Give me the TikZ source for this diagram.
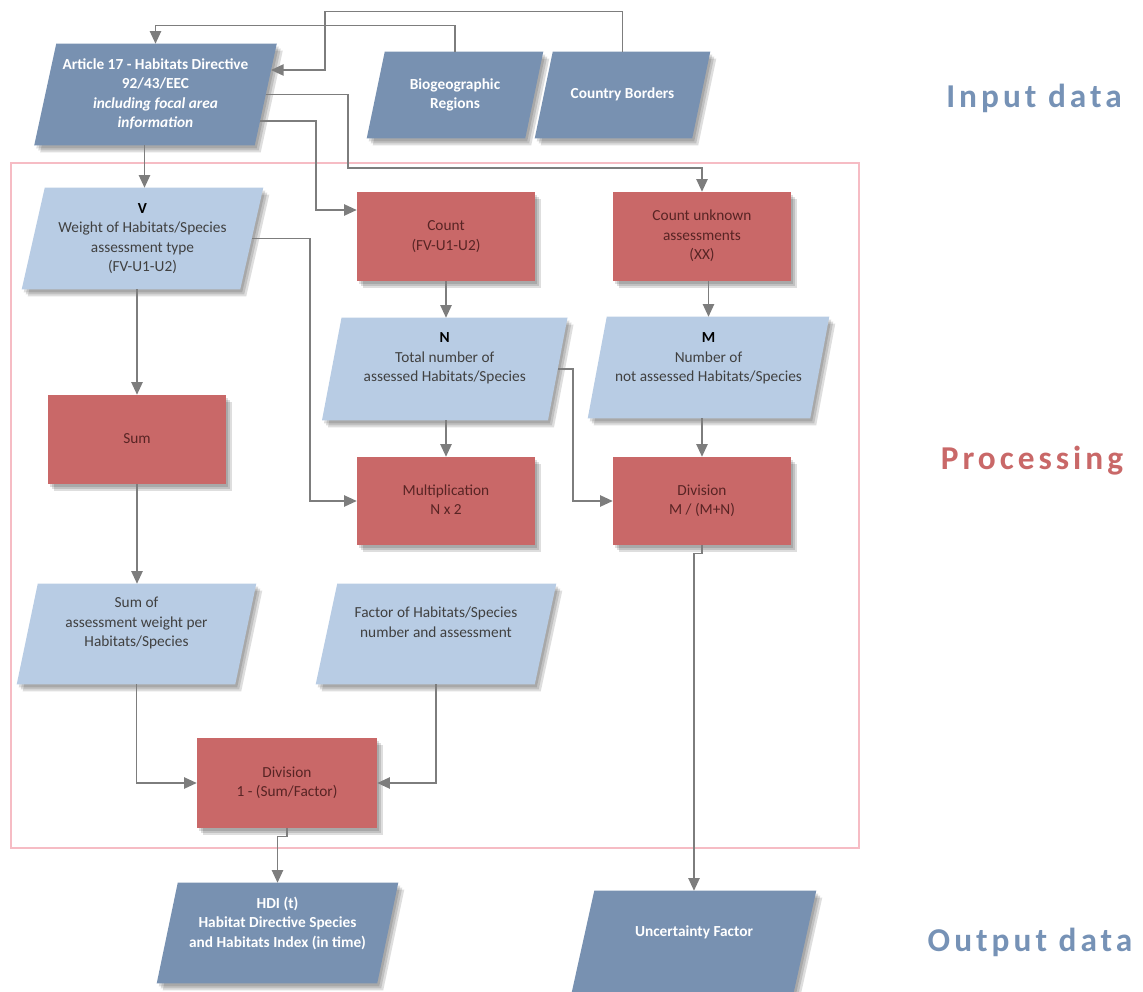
\documentclass[tikz,border=0pt]{standalone}
\usepackage{fontspec}
\setmainfont{Carlito}
\newfontfamily\lblfont[LetterSpace=12]{Carlito}
\usetikzlibrary{arrows.meta}
\definecolor{dkblue}{RGB}{120,145,177}
\definecolor{ltblue}{RGB}{184,204,228}
\definecolor{redbox}{RGB}{201,104,104}
\definecolor{redtxt}{RGB}{88,36,36}
\definecolor{graytxt}{RGB}{64,64,64}
\definecolor{arrc}{RGB}{125,125,125}
\definecolor{framec}{RGB}{246,188,196}
\definecolor{lblblue}{RGB}{118,146,182}
\definecolor{lblred}{RGB}{201,104,104}
\pgfdeclarelayer{background}
\pgfsetlayers{background,main}
\newcommand\tx[2]{\raisebox{#1}[\height][\depth]{\begin{tabular}{@{}c@{}}#2\end{tabular}}}
\newcommand\para[3]{%
 \foreach \d in {2,4,6}{%
  \fill[black,opacity=0.13] ([shift={({#2+\d},{\d+1})}]#1.north west) -- ([shift={({#2+\d},{\d+1})}]#1.north east) -- ([shift={({-#2+\d},{\d+1})}]#1.south east) -- ([shift={({-#2+\d},{\d+1})}]#1.south west) -- cycle;}
 \fill[#3] ([shift={(#2,0)}]#1.north west) -- ([shift={(#2,0)}]#1.north east) -- ([shift={(-#2,0)}]#1.south east) -- ([shift={(-#2,0)}]#1.south west) -- cycle;}
\tikzset{
 base/.style={inner sep=0pt, node font={\fontsize{11.5pt}{14.6pt}\selectfont}},
 dk/.style={base, text=white, node font={\fontsize{11.5pt}{14.6pt}\selectfont\bfseries}},
 lt/.style={base, text=graytxt},
 rd/.style={base, text=redtxt, minimum width=133.5pt, minimum height=66.75pt},
 arr/.style={draw=arrc, line width=1.1pt, -{Triangle[length=9.5pt,width=8.5pt]}},
 lbl/.style={inner sep=0pt, node font={\lblfont\bfseries\fontsize{25pt}{30pt}\selectfont}}
}
\begin{document}
\begin{tikzpicture}[x=0.75pt,y=-0.75pt]
\useasboundingbox (0,0) rectangle (1143,992);
% input
\node[dk, minimum width=165pt, minimum height=75.75pt] (art) at (155.5,94.5) {\tx{0pt}{Article 17 - Habitats Directive\\ 92/43/EEC\\ \itshape including focal area\\ \itshape information}};
\node[dk, minimum width=118.5pt, minimum height=64.5pt] (bio) at (455,95) {\tx{0pt}{Biogeographic\\ Regions}};
\node[dk, minimum width=117.75pt, minimum height=64.5pt] (cty) at (622.5,95) {\tx{0pt}{Country Borders}};
% processing
\node[lt, minimum width=163.5pt, minimum height=75.75pt] (V) at (142.5,238.5) {\tx{0pt}{\textcolor{black}{\bfseries V}\\ Weight of Habitats/Species\\ assessment type\\ (FV-U1-U2)}};
\node[rd] (cnt) at (446,236.5) {\tx{0pt}{Count\\ (FV-U1-U2)}};
\node[rd] (cun) at (702,236.5) {\tx{0pt}{Count unknown\\ assessments\\ (XX)}};
\node[lt, minimum width=169.1pt, minimum height=76.5pt] (N) at (444.75,369) {\tx{7.9pt}{\textcolor{black}{\bfseries N}\\ Total number of\\ assessed Habitats/Species}};
\node[lt, minimum width=166.5pt, minimum height=75.75pt] (M) at (708.5,367.5) {\tx{6.8pt}{\textcolor{black}{\bfseries M}\\ Number of\\ not assessed Habitats/Species}};
\node[rd] (sum) at (137,439.5) {\tx{0pt}{Sum}};
\node[rd, minimum height=66pt] (mult) at (446,501) {\tx{0pt}{Multiplication\\ N x 2}};
\node[rd, minimum height=66pt] (div1) at (702,501) {\tx{0pt}{Division\\ M / (M+N)}};
\node[lt, minimum width=163.5pt, minimum height=75pt] (so) at (136.5,634) {\tx{7.9pt}{Sum of\\ assessment weight per\\ Habitats/Species}};
\node[lt, minimum width=163.9pt, minimum height=75pt] (fac) at (436,634) {\tx{7.9pt}{Factor of Habitats/Species\\ number and assessment}};
\node[rd, minimum width=135pt, minimum height=67.5pt] (div2) at (287,783) {\tx{0pt}{Division\\ 1 - (Sum/Factor)}};
% output
\node[dk, minimum width=165pt, minimum height=75pt] (hdi) at (277.5,933) {\tx{6.8pt}{HDI (t)\\ Habitat Directive Species\\ and Habitats Index (in time)}};
\node[dk, minimum width=166.1pt, minimum height=75.75pt] (unc) at (694,941.5) {\tx{6.4pt}{Uncertainty Factor}};
% labels
\node[lbl, text=lblblue] (lin) at (1034,98) {Input data};
\node[lbl, text=lblred] (lproc) at (1032,461) {Processing};
\node[lbl, text=lblblue] (lout) at (1030,942) {Output data};
% shapes
\begin{pgfonlayer}{background}
\draw[framec, line width=1.5pt] (11,163) rectangle (859,848);
\para{art}{11}{dkblue}
\para{bio}{9}{dkblue}
\para{cty}{9}{dkblue}
\para{V}{11.5}{ltblue}
\para{N}{9.75}{ltblue}
\para{M}{9.5}{ltblue}
\para{so}{10.5}{ltblue}
\para{fac}{10.75}{ltblue}
\para{hdi}{10.5}{dkblue}
\para{unc}{11.25}{dkblue}
\para{cnt}{0}{redbox}
\para{cun}{0}{redbox}
\para{sum}{0}{redbox}
\para{mult}{0}{redbox}
\para{div1}{0}{redbox}
\para{div2}{0}{redbox}
\end{pgfonlayer}
% connectors
\coordinate (artin) at (271,70);
\coordinate (artout) at (260,121);
\coordinate (artb) at ([xshift=-8.25pt]art.south);
\draw[arr] (bio.north) -- ++(0,-26) -| (art.north);
\draw[arr] (cty.north) -- ++(0,-40) -| (325,70) -- (artin);
\draw[arr] (art.east) -| (348,168) -| (cun.north);
\draw[arr] (artout) -| (316,210) -- (cnt.west |- 316,210);
\draw[arr] (artb) -- (artb |- V.north);
\draw[arr] (V.east) -- (310,238.5) |- (mult.west);
\draw[arr] (sum.north |- V.south) -- (sum.north);
\draw[arr] (cnt.south) -- (cnt.south |- N.north);
\draw[arr] (M.north |- cun.south) -- (M.north);
\draw[arr] (mult.north |- N.south) -- (mult.north);
\draw[arr] (div1.north |- M.south) -- (div1.north);
\draw[arr] (N.east) -- (573,369) |- (div1.west);
\draw[arr] (sum.south) -- (sum.south |- so.north);
\draw[arr] (so.south) |- (div2.west);
\draw[arr] (fac.south) |- (div2.east);
\draw[arr] (div2.south) -- ++(0,8) -| (hdi.north);
\draw[arr] (div1.south) -- ++(0,8) -| (unc.north);
\end{tikzpicture}
\end{document}
